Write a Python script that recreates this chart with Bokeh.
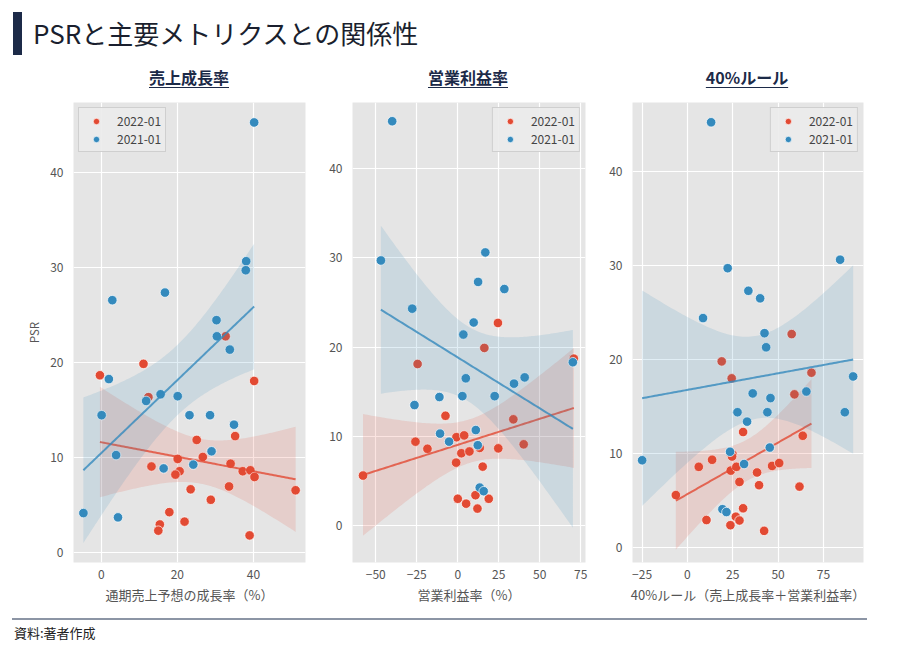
import numpy as np
from bokeh.plotting import figure
from bokeh.models import Div, Legend, LegendItem, Range1d, FixedTicker
from bokeh.layouts import row, column
from bokeh.embed import file_html
from bokeh.resources import INLINE

# ---------------- data ----------------
years = ["2022-01", "2021-01"]
yticks = [0, 10, 20, 30, 40]

# panel 1: 売上成長率
growth_x_2022 = [-0.35, 11.1, 12.4, 32.7, 40.2, 25.1, 35.2, 26.7, 20.1, 13.2, 20.6, 19.5, 34.0,
                 37.2, 39.2, 40.3, 23.5, 28.8, 33.6, 51.1, 17.9, 15.4, 15.0, 21.9, 39.0]
growth_y_2022 = [18.7, 19.9, 16.4, 22.8, 18.1, 11.9, 12.3, 10.1, 9.9, 9.1, 8.6, 8.25, 9.4,
                 8.6, 8.7, 8.0, 6.7, 5.6, 7.0, 6.6, 4.3, 3.0, 2.35, 3.3, 1.85]
growth_x_2021 = [40.2, 38.1, 38.0, 2.9, 16.75, 30.3, 30.4, 33.8, 2.0, 11.8, 15.6, 20.1, 0.1,
                 23.2, 28.6, 34.9, 3.9, 29.0, 16.4, 24.2, -4.7, 4.4]
growth_y_2021 = [45.3, 30.7, 29.75, 26.6, 27.4, 24.5, 22.8, 21.4, 18.3, 16.0, 16.7, 16.5, 14.5,
                 14.5, 14.5, 13.5, 10.3, 10.7, 8.9, 9.3, 4.2, 3.75]

# panel 2: 営業利益率
margin_x_2022 = [24.5, 16.2, -24.5, 70.8, -7.5, 33.9, -25.8, -18.5, -0.8, 3.9, 2.2, 7.1, 13.4,
                 24.7, 40.2, -1.0, 15.2, -57.8, 0.0, 5.1, 10.8, 18.9, 12.0]
margin_y_2022 = [22.7, 19.9, 18.1, 18.7, 12.3, 11.9, 9.4, 8.6, 9.9, 10.1, 8.1, 8.3, 8.7,
                 8.65, 9.1, 7.05, 6.6, 5.6, 3.0, 2.45, 3.4, 3.0, 1.9]
margin_x_2021 = [-40.0, -46.9, 16.8, 12.4, 28.4, -27.8, 9.7, 3.4, -26.4, -11.2, 2.8, 4.9, 22.5,
                 34.3, 40.8, 70.2, -10.8, -5.3, 11.0, 12.2, 13.4, 15.8]
margin_y_2021 = [45.3, 29.7, 30.6, 27.3, 26.5, 24.3, 22.75, 21.4, 13.5, 14.4, 14.5, 16.5, 14.5,
                 15.9, 16.6, 18.3, 10.3, 9.4, 10.7, 9.0, 4.25, 3.85]

# panel 3: 40%ルール
rule_x_2022 = [57.5, 18.9, 24.4, 68.4, 59.0, 30.7, 63.6, 24.8, 24.6, 13.6, 6.25, 23.9, 27.0,
               38.4, 46.7, 50.6, 28.7, 39.5, 61.8, -6.4, 30.7, 26.7, 28.7, 10.5, 23.7, 42.3]
rule_y_2022 = [22.7, 19.8, 18.0, 18.6, 16.3, 12.3, 11.9, 9.95, 9.7, 9.35, 8.6, 8.2, 8.6,
               8.0, 8.7, 9.0, 7.0, 6.65, 6.5, 5.6, 4.2, 3.3, 2.9, 2.95, 2.4, 1.8]
rule_x_2021 = [13.05, 22.2, 84.2, 33.6, 40.1, 8.6, 42.5, 43.4, 36.0, 45.8, 65.6, 91.4, 27.6,
               44.1, 86.8, 32.9, 23.5, 45.4, 31.25, -25.0, 19.3, 21.5]
rule_y_2021 = [45.2, 29.7, 30.6, 27.3, 26.5, 24.4, 22.8, 21.3, 16.4, 15.9, 16.6, 18.2, 14.4,
               14.4, 14.4, 13.4, 10.2, 10.65, 8.9, 9.3, 4.1, 3.8]

# ---------------- styles ----------------
RED = "#E24A33"
BLUE = "#348ABD"
FONT = "Noto Sans CJK JP"
GRAY = "#555555"


def fit_band(x, y, n=100):
    x = np.asarray(x, float)
    y = np.asarray(y, float)
    b, a = np.polyfit(x, y, 1)
    xs = np.linspace(x.min(), x.max(), n)
    yh = a + b * xs
    resid = y - (a + b * x)
    s = np.sqrt((resid ** 2).sum() / (len(x) - 2))
    sxx = ((x - x.mean()) ** 2).sum()
    se = s * np.sqrt(1.0 / len(x) + (xs - x.mean()) ** 2 / sxx)
    t = 2.07
    return xs, yh, yh - t * se, yh + t * se


def make_panel(xr, yr, xticks, width, bl, br, xlabel, ylabel, series, legend_loc):
    p = figure(width=width, height=513, x_range=Range1d(*xr), y_range=Range1d(*yr),
               output_backend="svg", toolbar_location=None,
               min_border_left=bl, min_border_right=br, min_border_top=8, min_border_bottom=45)
    p.background_fill_color = "#E5E5E5"
    p.border_fill_color = "white"
    p.outline_line_color = None
    p.grid.grid_line_color = "white"
    p.grid.grid_line_width = 1.2
    p.xaxis.ticker = FixedTicker(ticks=xticks)
    p.yaxis.ticker = FixedTicker(ticks=yticks)
    for ax in (p.xaxis, p.yaxis):
        ax.axis_line_color = None
        ax.major_tick_out = 0
        ax.major_tick_in = 0
        ax.minor_tick_out = 0
        ax.minor_tick_in = 0
        ax.major_label_text_font = FONT
        ax.major_label_text_font_size = "12px"
        ax.major_label_text_color = GRAY
        ax.axis_label_text_font = FONT
        ax.axis_label_text_font_size = "13px"
        ax.axis_label_text_color = GRAY
        ax.axis_label_text_font_style = "normal"
    p.xaxis.major_label_standoff = 7
    p.yaxis.major_label_standoff = 10
    p.xaxis.axis_label = xlabel
    p.xaxis.axis_label_standoff = 3
    if ylabel:
        p.yaxis.axis_label = ylabel
        p.yaxis.axis_label_standoff = 5
        p.yaxis.axis_label_text_font_size = "11.5px"

    items = []
    for (x, y, color, name) in series:
        r = p.scatter(x, y, size=9.5, fill_color=color, line_color="white", line_width=0.7)
        xs, yh, lo, hi = fit_band(x, y)
        p.varea(x=xs, y1=lo, y2=hi, fill_color=color, fill_alpha=0.15)
        p.line(xs, yh, line_color=color, line_width=2, line_alpha=0.8)
        items.append(LegendItem(label=name, renderers=[r]))
    leg = Legend(items=items, location=legend_loc, margin=5, padding=4,
                 glyph_width=26, glyph_height=16, label_height=16, spacing=1,
                 label_standoff=8,
                 label_text_font=FONT, label_text_font_size="12px", label_text_color="#444444",
                 background_fill_color="#EBEBEB", background_fill_alpha=0.9,
                 border_line_color="#CCCCCC", border_line_alpha=0.9)
    p.add_layout(leg)
    return p


p1 = make_panel((-7.3, 53.7), (-1.0, 47.4), [0, 20, 40], 315, 73, 10,
                "通期売上予想の成長率（%）", "PSR",
                [(growth_x_2022, growth_y_2022, RED, years[0]),
                 (growth_x_2021, growth_y_2021, BLUE, years[1])], "top_left")
p2 = make_panel((-64.2, 77.9), (-4.14, 47.4), [-50, -25, 0, 25, 50, 75], 280, 37, 10,
                "営業利益率（%）", None,
                [(margin_x_2022, margin_y_2022, RED, years[0]),
                 (margin_x_2021, margin_y_2021, BLUE, years[1])], "top_right")
p3 = make_panel((-30.3, 97.1), (-1.56, 47.3), [-25, 0, 25, 50, 75], 280, 37, 12,
                "40%ルール（売上成長率＋営業利益率）", None,
                [(rule_x_2022, rule_y_2022, RED, years[0]),
                 (rule_x_2021, rule_y_2021, BLUE, years[1])], "top_right")

NAVY = "#1C2A48"
sub_style = ("position:absolute; top:61px; transform:translateX(-50%); white-space:nowrap;"
             "font-family:'Noto Sans CJK JP'; font-size:16px; font-weight:bold; color:" + NAVY + ";"
             "text-decoration:underline; text-underline-offset:3px;")
header_html = f"""
<div style="position:relative; width:875px; height:84px;">
  <div style="position:absolute; left:8px; top:7px; width:9px; height:43px; background:{NAVY};"></div>
  <div style="position:absolute; left:28px; top:10px; font-family:'Noto Sans CJK JP'; font-size:26px;
              line-height:36px; color:#1a1f2e; white-space:nowrap;">PSRと主要メトリクスとの関係性</div>
  <div style="{sub_style} left:184px;">売上成長率</div>
  <div style="{sub_style} left:463px;">営業利益率</div>
  <div style="{sub_style} left:742px;">40%ルール</div>
</div>
"""
header = Div(text=header_html, width=875, height=84)

footer_html = """
<div style="position:relative; width:875px; height:33px;">
  <div style="position:absolute; left:7px; top:6px; width:855px; height:2px; background:#8C95A5;"></div>
  <div style="position:absolute; left:9px; top:11px; font-family:'Noto Sans CJK JP'; font-size:13px;
              line-height:20px; color:#222222; white-space:nowrap;">資料:著者作成</div>
</div>
"""
footer = Div(text=footer_html, width=875, height=33)

layout = column(header, row(p1, p2, p3), footer)

with open("out.html", "w") as f:
    f.write(file_html(layout, INLINE))
